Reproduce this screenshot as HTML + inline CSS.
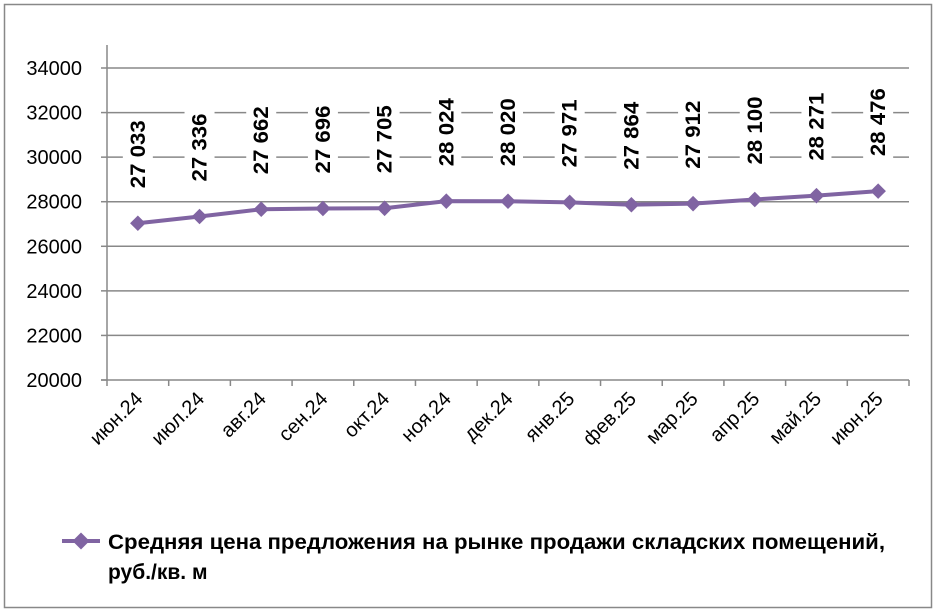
<!DOCTYPE html>
<html><head><meta charset="utf-8"><style>
body{margin:0;background:#fff;}
svg{display:block;font-family:"Liberation Sans","DejaVu Sans",sans-serif;}
</style></head><body>
<svg width="937" height="613">
<rect x="4.5" y="4.5" width="927" height="603" fill="#fff" stroke="#888" stroke-width="1.5"/>
<g id="grid"></g><g id="axes"></g><g id="series"></g><g id="labels"></g>
<g>
<line x1="62" y1="541" x2="100" y2="541" stroke="#8064a2" stroke-width="4"/>
<rect x="75" y="535" width="12" height="12" fill="#8064a2" transform="rotate(45 81 541)"/>
<text x="108" y="549" font-size="21" font-weight="bold" fill="#000" textLength="777" lengthAdjust="spacingAndGlyphs">Средняя цена предложения на рынке продажи  складских помещений,</text>
<text x="108" y="579" font-size="21" font-weight="bold" fill="#000">руб./кв. м</text>
</g>
</svg>
<script>
const categories=["июн.24","июл.24","авг.24","сен.24","окт.24","ноя.24","дек.24","янв.25","фев.25","мар.25","апр.25","май.25","июн.25"];
const values=[27033,27336,27662,27696,27705,28024,28020,27971,27864,27912,28100,28271,28476];
const valueLabels=["27 033","27 336","27 662","27 696","27 705","28 024","28 020","27 971","27 864","27 912","28 100","28 271","28 476"];
const yTicks=[20000,22000,24000,26000,28000,30000,32000,34000];
const NS="http://www.w3.org/2000/svg";
const L=107,R=909,T=68,B=380,ymin=20000,ymax=34000;
const y=v=>B-(v-ymin)/(ymax-ymin)*(B-T);
const bw=(R-L)/categories.length;
const x=i=>L+bw*(i+0.5);
function mk(tag,attrs,parent){const e=document.createElementNS(NS,tag);for(const k in attrs)e.setAttribute(k,attrs[k]);document.getElementById(parent).appendChild(e);return e;}
yTicks.forEach(t=>{
  if(t>ymin){const g=mk('line',{x1:L,x2:R,y1:y(t),y2:y(t),stroke:'#888','stroke-width':1.5},'grid');
  
  }
  const tk=mk('line',{x1:L-6,x2:L,y1:y(t),y2:y(t),stroke:'#888','stroke-width':1.5},'axes');
  
  
  const tx=mk('text',{x:82,y:y(t)+7,'text-anchor':'end','font-size':20},'axes');
  tx.textContent=t;
  
  
});
const ya=mk('line',{x1:L,x2:L,y1:45,y2:B,stroke:'#888','stroke-width':1.5},'axes');


const xa=mk('line',{x1:L-6,x2:R,y1:B,y2:B,stroke:'#888','stroke-width':1.5},'axes');


for(let i=0;i<=categories.length;i++){
  const tk=mk('line',{x1:L+bw*i,x2:L+bw*i,y1:B,y2:B+6,stroke:'#888','stroke-width':1.5},'axes');
  
  
}
categories.forEach((c,i)=>{
  const cx=x(i)+6,cy=B+20;
  const t=mk('text',{x:cx,y:cy,'text-anchor':'end','font-size':20,transform:`rotate(-45 ${cx} ${cy})`},'axes');
  t.textContent=c;
  
  
});
const pl=mk('polyline',{points:values.map((v,i)=>x(i)+','+y(v)).join(' '),fill:'none',stroke:'#8064a2','stroke-width':4},'series');


values.forEach((v,i)=>{
  const m=mk('rect',{x:x(i)-5.5,y:y(v)-5.5,width:11,height:11,fill:'#8064a2',transform:`rotate(45 ${x(i)} ${y(v)})`},'series');
  
  
  const by=y(v)-35, w=72;
  const bg=mk('rect',{x:x(i)-15,y:by-w-2,width:30,height:w+4,fill:'#fff'},'labels');
  
  
  const t=mk('text',{x:x(i)+7,y:by,'font-size':21,'font-weight':'bold',textLength:68,lengthAdjust:'spacingAndGlyphs',transform:`rotate(-90 ${x(i)+7} ${by})`},'labels');
  t.textContent=valueLabels[i];
  
  
});
</script>
</body></html>
